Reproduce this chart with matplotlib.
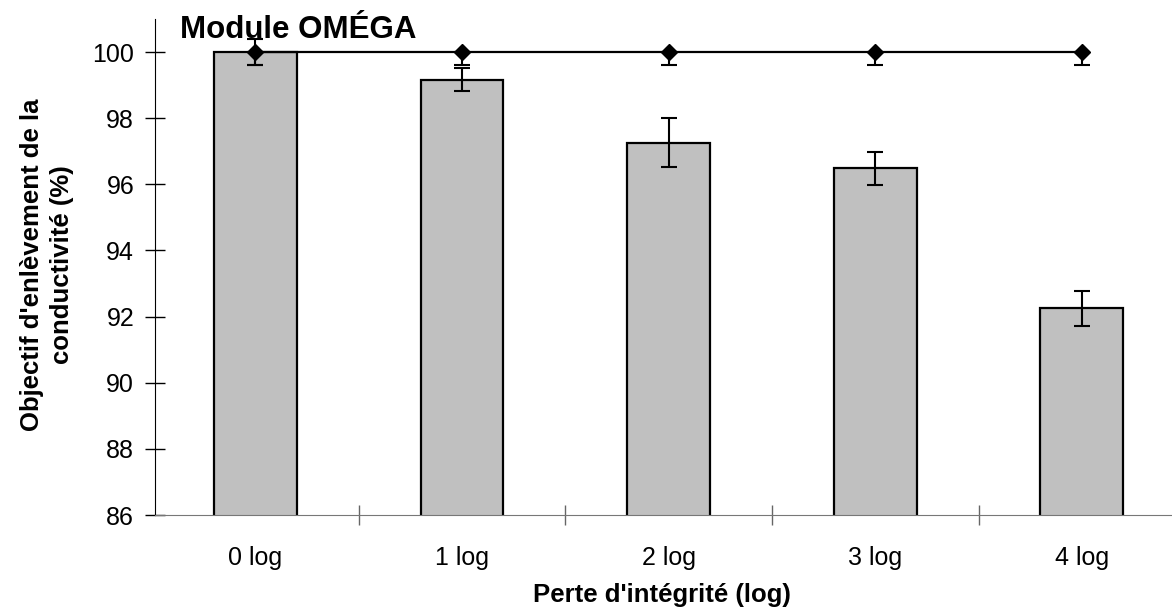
import numpy as np
import matplotlib.pyplot as plt
from matplotlib.ticker import FixedLocator, NullFormatter

# donnees
categories = ["0 log", "1 log", "2 log", "3 log", "4 log"]
enlevement = [100.0, 99.17, 97.26, 96.48, 92.25]
erreur_barres = [0.4, 0.36, 0.74, 0.49, 0.53]
objectif = [100, 100, 100, 100, 100]
erreur_objectif = [0.4, 0.4, 0.4, 0.4, 0.4]
y_ticks = [86, 88, 90, 92, 94, 96, 98, 100]

plt.rcParams['font.family'] = ['Liberation Sans', 'DejaVu Sans']

fig = plt.figure(figsize=(11.72, 6.12), dpi=100)
pas = 206.6  # pixels par categorie
ax = fig.add_axes([155/1172, 1 - 515/612, 4.986*pas/1172, (515 - 19)/612])

x = np.arange(len(categories))

ax.bar(x, enlevement, width=0.4, color='#c0c0c0', edgecolor='black', linewidth=1.6, zorder=2)
ax.errorbar(x, enlevement, yerr=erreur_barres, fmt='none', ecolor='black',
            elinewidth=1.5, capsize=5.5, capthick=1.5, zorder=3)

# objectif : ligne avec losanges, erreur vers le bas seulement
ax.errorbar(x, objectif, yerr=[erreur_objectif, np.zeros(len(x))], fmt='-D', color='black',
            linewidth=1.6, markersize=8, elinewidth=1.5, capsize=5.5, capthick=1.5,
            zorder=4, clip_on=False)

ax.set_xlim(-0.486, 4.5)
ax.set_ylim(86, 101)

ax.set_yticks(y_ticks)
ax.tick_params(axis='y', direction='inout', length=14, width=1, labelsize=18, pad=8)

ax.xaxis.set_major_locator(FixedLocator(np.arange(0.5, 5.0, 1.0)))
ax.xaxis.set_major_formatter(NullFormatter())
ax.xaxis.set_minor_locator(FixedLocator(x))
ax.set_xticklabels(categories, minor=True)
ax.tick_params(axis='x', which='major', direction='inout', length=14, width=1, color='#666666')
ax.tick_params(axis='x', which='minor', length=0, labelsize=18, pad=22)

for s in ['top', 'right']:
    ax.spines[s].set_visible(False)
ax.spines['left'].set_color('black')
ax.spines['bottom'].set_color('#777777')

fig.text(180/1172, 1 - 38/612, "Module OMÉGA", fontsize=22.5, fontweight='bold', va='baseline', ha='left')
fig.text(662/1172, 1 - 602/612, "Perte d'intégrité (log)", fontsize=18.5, fontweight='bold',
         ha='center', va='baseline')
fig.text(47/1172, 1 - 265/612, "Objectif d'enlèvement de la\nconductivité (%)", fontsize=18.5,
         fontweight='bold', ha='center', va='center', rotation=90, linespacing=1.3)

fig.savefig("out.png", dpi=100)
